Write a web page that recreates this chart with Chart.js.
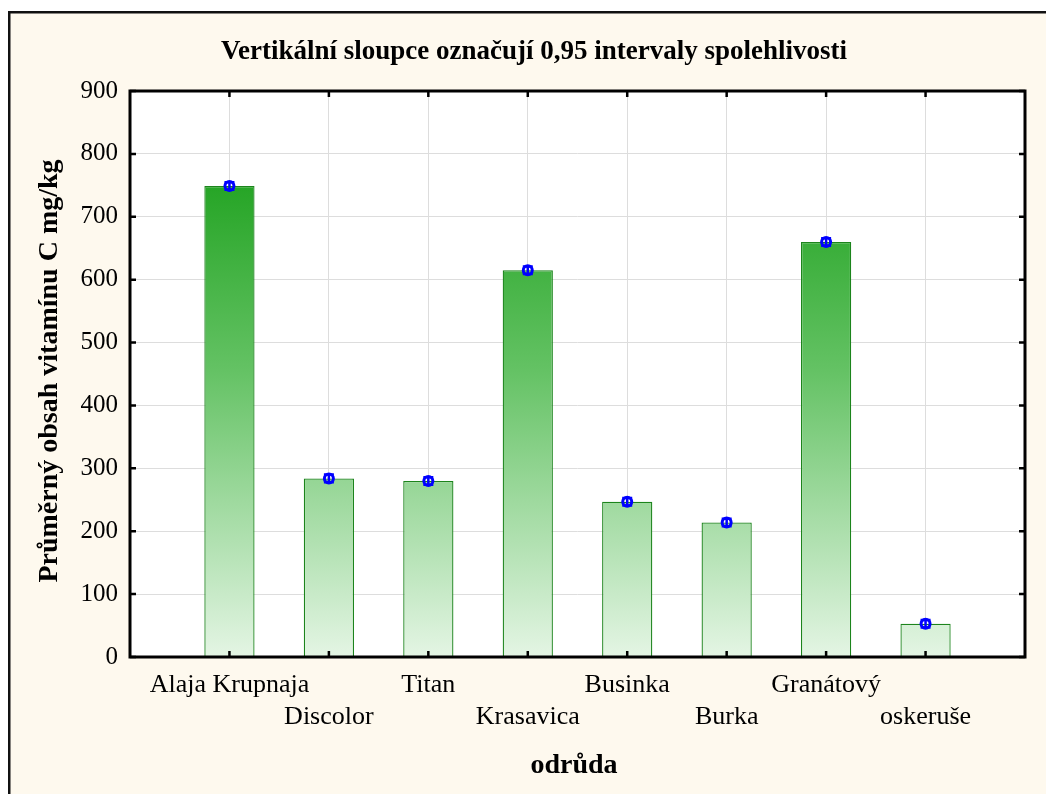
<!DOCTYPE html>
<html>
<head>
<meta charset="utf-8">
<script src="https://cdn.jsdelivr.net/npm/chart.js@4/dist/chart.umd.min.js"></script>
<style>
  html, body { margin: 0; padding: 0; background: #ffffff; }
  #wrap { width: 1046px; height: 794px; }
</style>
</head>
<body>
<div id="wrap"><canvas id="c" width="1046" height="794"></canvas></div>
<script>
// Odrůdy (varieties) and mean vitamin C content in mg/kg
const categories = ['Alaja Krupnaja', 'Discolor', 'Titan', 'Krasavica', 'Businka', 'Burka', 'Granátový', 'oskeruše'];
const means      = [749, 284, 280, 615, 247, 214, 660, 53];
// 0.95 confidence interval bounds
const ciLower    = [743, 278, 274, 609, 241, 208, 654, 47];
const ciUpper    = [755, 290, 286, 621, 253, 220, 666, 59];
const yTicks     = [0, 100, 200, 300, 400, 500, 600, 700, 800, 900];

const chartTitle = 'Vertikální sloupce označují 0,95 intervaly spolehlivosti';
const yTitle = 'Průměrný obsah vitamínu C mg/kg';
const xTitle = 'odrůda';

// Category axis padded with an empty slot on each side
const axisLabels = ['', ...categories.map((c, i) => i % 2 === 0 ? c : ['', c]), ''];
const barValues = [null, ...means, null];

const SERIF = '"Liberation Serif", "Times New Roman", serif';

function barGradient(context) {
  const chart = context.chart;
  const area = chart.chartArea;
  if (!area) return 'rgb(120,200,120)';
  const y = chart.scales.y;
  const g = chart.ctx.createLinearGradient(0, y.getPixelForValue(760), 0, y.getPixelForValue(0));
  g.addColorStop(0, 'rgb(36,164,36)');
  g.addColorStop(0.4, 'rgb(100,194,100)');
  g.addColorStop(1, 'rgb(228,245,228)');
  return g;
}

const decorations = {
  id: 'decorations',
  beforeDraw(chart) {
    const ctx = chart.ctx;
    ctx.save();
    ctx.fillStyle = '#ffffff';
    ctx.fillRect(0, 0, chart.width, chart.height);
    ctx.fillStyle = '#FEF9EE';
    ctx.fillRect(9, 12, chart.width, chart.height);
    ctx.strokeStyle = '#111111';
    ctx.lineWidth = 2.5;
    ctx.beginPath();
    ctx.moveTo(9.25, chart.height + 5);
    ctx.lineTo(9.25, 12.25);
    ctx.lineTo(chart.width + 5, 12.25);
    ctx.stroke();
    // white plot background
    const a = chart.chartArea;
    ctx.fillStyle = '#ffffff';
    ctx.fillRect(a.left, a.top, a.right - a.left, a.bottom - a.top);
    ctx.restore();
  },
  afterDatasetsDraw(chart) {
    const ctx = chart.ctx;
    const xs = chart.scales.x, ys = chart.scales.y;
    ctx.save();
    ctx.strokeStyle = '#0000ff';
    means.forEach((m, i) => {
      const px = xs.getPixelForValue(i + 1);
      const pm = ys.getPixelForValue(m);
      const pl = ys.getPixelForValue(ciLower[i]);
      const pu = ys.getPixelForValue(ciUpper[i]);
      ctx.lineWidth = 2.5;
      ctx.beginPath();
      ctx.moveTo(px, pl); ctx.lineTo(px, pu);
      ctx.moveTo(px - 5, pl); ctx.lineTo(px + 5, pl);
      ctx.moveTo(px - 5, pu); ctx.lineTo(px + 5, pu);
      ctx.stroke();
      ctx.lineWidth = 3;
      ctx.beginPath();
      ctx.arc(px, pm, 4.5, 0, Math.PI * 2);
      ctx.stroke();
    });
    ctx.restore();
  },
  afterDraw(chart) {
    const ctx = chart.ctx;
    const a = chart.chartArea;
    const xs = chart.scales.x, ys = chart.scales.y;
    ctx.save();
    // plot frame
    ctx.strokeStyle = '#000000';
    ctx.lineWidth = 3;
    ctx.strokeRect(a.left, a.top, a.right - a.left, a.bottom - a.top);
    // inward tick marks
    ctx.lineWidth = 2.5;
    ctx.beginPath();
    yTicks.forEach(v => {
      const py = ys.getPixelForValue(v);
      ctx.moveTo(a.left, py); ctx.lineTo(a.left + 6, py);
      ctx.moveTo(a.right, py); ctx.lineTo(a.right - 6, py);
    });
    categories.forEach((c, i) => {
      const px = xs.getPixelForValue(i + 1);
      ctx.moveTo(px, a.bottom); ctx.lineTo(px, a.bottom - 6);
      ctx.moveTo(px, a.top); ctx.lineTo(px, a.top + 6);
    });
    ctx.stroke();
    // titles
    ctx.fillStyle = '#000000';
    ctx.textAlign = 'center';
    ctx.textBaseline = 'middle';
    ctx.font = 'bold 27px ' + SERIF;
    ctx.fillText(chartTitle, 534, 52);
    ctx.font = 'bold 28px ' + SERIF;
    ctx.fillText(xTitle, 574, 766);
    ctx.translate(50, (a.top + a.bottom) / 2 - 3);
    ctx.rotate(-Math.PI / 2);
    ctx.font = 'bold 28px ' + SERIF;
    ctx.fillText(yTitle, 0, 0);
    ctx.restore();
  }
};

new Chart(document.getElementById('c'), {
  type: 'bar',
  data: {
    labels: axisLabels,
    datasets: [{
      data: barValues,
      backgroundColor: barGradient,
      borderColor: 'rgb(28,132,28)',
      borderWidth: 1.3,
      categoryPercentage: 1,
      barPercentage: 0.505
    }]
  },
  options: {
    responsive: false,
    animation: false,
    devicePixelRatio: 1,
    layout: { padding: { top: 91, right: 21, left: 0, bottom: 0 } },
    plugins: {
      legend: { display: false },
      tooltip: { enabled: false },
      title: { display: false }
    },
    scales: {
      x: {
        offset: false,
        afterFit(scale) { scale.height = 137; },
        grid: { offset: false, color: '#dddddd', lineWidth: 1, drawTicks: false },
        border: { display: false },
        ticks: {
          autoSkip: false,
          maxRotation: 0,
          minRotation: 0,
          padding: 12,
          color: '#000000',
          font: { family: SERIF, size: 26, lineHeight: 1.24 }
        }
      },
      y: {
        min: 0,
        max: 900,
        afterFit(scale) { scale.width = 130; },
        afterBuildTicks(scale) { scale.ticks = yTicks.map(v => ({ value: v })); },
        grid: { color: '#dddddd', lineWidth: 1, drawTicks: false },
        border: { display: false },
        ticks: {
          padding: 12,
          color: '#000000',
          font: { family: SERIF, size: 25 }
        }
      }
    }
  },
  plugins: [decorations]
});
</script>
</body>
</html>
